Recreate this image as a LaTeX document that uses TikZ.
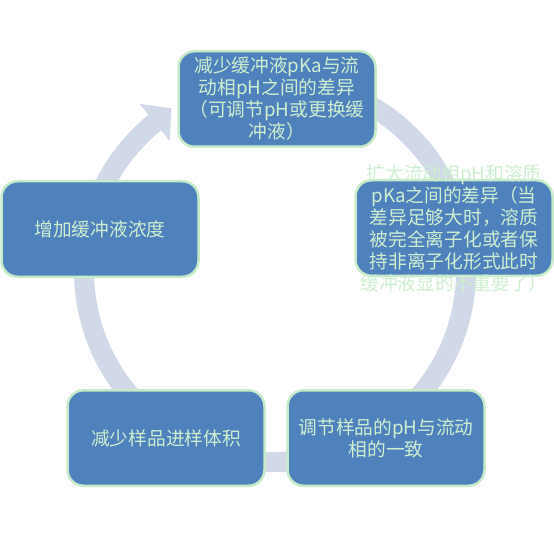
\documentclass[tikz,border=0pt]{standalone}
\usepackage{fontspec}
\newfontfamily\cjk{Noto Sans CJK SC}
\usetikzlibrary{calc}
\definecolor{boxfill}{HTML}{4F81BD}
\definecolor{boxline}{HTML}{C6EBC9}
\definecolor{txt}{HTML}{CDEFD0}
\definecolor{ringcol}{HTML}{D1D8E8}
\begin{document}
\begin{tikzpicture}[x=1pt,y=1pt,
  stepbox/.style={rectangle, rounded corners=16pt, fill=boxfill, draw=boxline, line width=2.5pt, minimum width=197pt, minimum height=95.5pt, inner sep=0pt},
  steptext/.style={text=txt, align=center, font=\cjk\fontsize{18.7}{22}\selectfont, inner sep=0pt}]
\useasboundingbox (0,0) rectangle (554,539);
\coordinate (C) at (275,268);
\draw[ringcol, line width=20pt] ($(C)+(100:191)$) arc[start angle=100, end angle=-231.5, radius=191];
\fill[ringcol] ($(C)+(129:167)$) -- ($(C)+(129:215)$) -- ($(C)+(122.5:193)$) -- cycle;
\node[stepbox, steptext] (n1) at (277,440) {减少缓冲液pKa与流\\动相pH之间的差异\\（可调节pH或更换缓\\冲液）};
\node[stepbox] (n2) at (454,311) {};
\node[steptext] (t2) at (n2.center) {扩大流动相pH和溶质\\pKa之间的差异（当\\差异足够大时，溶质\\被完全离子化或者保\\持非离子化形式此时\\缓冲液显的不重要了）};
\node[stepbox, steptext] (n3) at (386,101) {调节样品的pH与流动\\相的一致};
\node[stepbox, steptext] (n4) at (166,101) {减少样品进样体积};
\node[stepbox, steptext] (n5) at (100,310) {增加缓冲液浓度};
\end{tikzpicture}
\end{document}
